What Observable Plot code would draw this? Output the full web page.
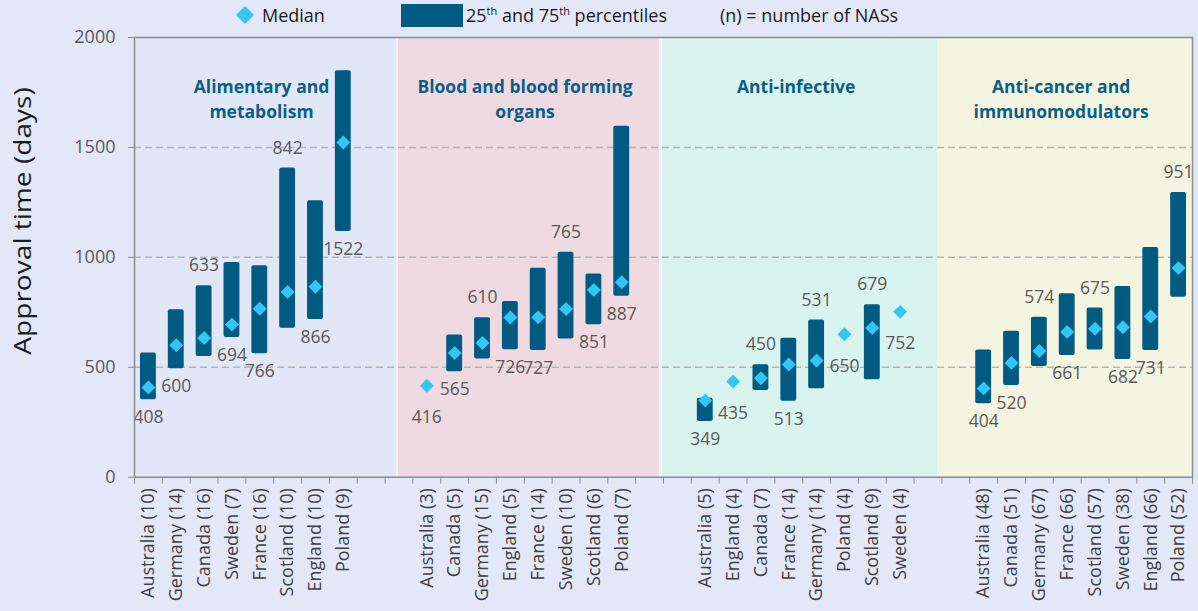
<!DOCTYPE html>
<html>
<head>
<meta charset="utf-8">
<script src="https://cdn.jsdelivr.net/npm/d3@7"></script>
<script src="https://cdn.jsdelivr.net/npm/@observablehq/plot@0.6"></script>
<style>
  html, body { margin: 0; padding: 0; background: #E3E8F8; }
  body { position: relative; width: 1198px; height: 611px; overflow: hidden; font-family: "Open Sans", sans-serif; }
  #legend { position: relative; height: 30px; font-size: 18px; color: #1a1a1a; }
  #legend .item { position: absolute; top: 0; height: 30px; line-height: 30px; white-space: nowrap; }
  #legend sup { font-size: 11px; vertical-align: 0; position: relative; top: -7px; }
  #ytitle { position: absolute; left: 22px; top: 221px; font-size: 24px; color: #1a1a1a; white-space: nowrap;
            transform: translate(-50%, -50%) rotate(-90deg) scaleX(1.17); line-height: 1; }
</style>
</head>
<body>
<div id="legend">
  <svg class="item" style="left:236px; top:6px; height:18px;" width="18" height="18"><polygon points="9,0 18,9 9,18 0,9" fill="#33C6F4"/></svg>
  <div class="item" style="left:262px;">Median</div>
  <div class="item" style="left:401px; top:4px; width:62px; height:23px; background:#005A82;"></div>
  <div class="item" style="left:466px;">25<sup>th</sup> and 75<sup>th</sup> percentiles</div>
  <div class="item" style="left:720px;">(n) = number of NASs</div>
</div>
<div id="chart"></div>
<div id="ytitle">Approval time (days)</div>
<script>
// ---- Data ----
const groupTitles = ["Alimentary and\nmetabolism", "Blood and blood forming\norgans", "Anti-infective", "Anti-cancer and\nimmunomodulators"];

const g1Countries = ["Australia","Germany","Canada","Sweden","France","Scotland","England","Poland"];
const g1N        = [10,14,16,7,16,10,10,9];
const g1Median   = [408,600,633,694,766,842,866,1522];
const g1Q1       = [352,493,549,636,561,677,717,1118];
const g1Q3       = [565,762,871,977,962,1406,1258,1849];
const g1LabelSide = ["below","below","above","below","below","above","below","below"];

const g2Countries = ["Australia","Canada","Germany","England","France","Sweden","Scotland","Poland"];
const g2N        = [3,5,15,5,14,10,6,7];
const g2Median   = [416,565,610,726,727,765,851,887];
const g2Q1       = [null,480,538,580,576,629,693,823];
const g2Q3       = [null,647,725,799,950,1023,924,1596];
const g2LabelSide = ["below","below","above","below","below","above","below","below"];

const g3Countries = ["Australia","England","Canada","France","Germany","Poland","Scotland","Sweden"];
const g3N        = [5,4,7,14,14,4,9,4];
const g3Median   = [349,435,450,513,531,650,679,752];
const g3Q1       = [253,null,394,345,402,null,443,null];
const g3Q3       = [359,null,511,632,715,null,784,null];
const g3LabelSide = ["below","below","above","below","above","below","above","below"];

const g4Countries = ["Australia","Canada","Germany","France","Scotland","Sweden","England","Poland"];
const g4N        = [48,51,67,66,57,38,66,52];
const g4Median   = [404,520,574,661,675,682,731,951];
const g4Q1       = [334,417,503,553,579,535,576,818];
const g4Q3       = [579,664,727,834,770,867,1045,1295];
const g4LabelSide = ["below","below","above","below","above","below","below","above"];

const yTicks = [0,500,1000,1500,2000];
const gridValues = [500,1000,1500];

// ---- Build table ----
const groups = [
  [g1Countries,g1N,g1Median,g1Q1,g1Q3,g1LabelSide],
  [g2Countries,g2N,g2Median,g2Q1,g2Q3,g2LabelSide],
  [g3Countries,g3N,g3Median,g3Q1,g3Q3,g3LabelSide],
  [g4Countries,g4N,g4Median,g4Q1,g4Q3,g4LabelSide]
];
const rows = [];
groups.forEach(([c,n,m,q1,q3,side], g) => {
  c.forEach((name, j) => {
    rows.push({i: g*10 + j, label: `${name} (${n[j]})`, median: m[j], q1: q1[j], q3: q3[j], side: side[j], hasBar: q1[j] != null});
  });
});
const labelOf = new Map(rows.map(r => [r.i, r.label]));

// panel extents in band-index units (layout)
const panelExtents = [[-0.5, 8.91], [8.98, 18.36], [18.47, 28.35], [28.35, 37.5]];
const panelFills = ["#E2E7F8", "#EFDAE2", "#D9F4EE", "#F4F5E0"];
const panels = panelExtents.map(([a,b],k) => ({x1:a, x2:b, fill: panelFills[k], title: groupTitles[k], xc:(a+b)/2}));

const chart = Plot.plot({
  width: 1198,
  height: 581,
  marginTop: 7,
  marginLeft: 134,
  marginRight: 6,
  marginBottom: 134.3,
  x: {type: "linear", domain: [-0.5, 37.5], axis: null},
  y: {domain: [0, 2000], axis: null},
  style: {background: "transparent", fontFamily: "Open Sans, sans-serif", overflow: "visible"},
  marks: [
    Plot.rect([0], {x1: -0.5, x2: 37.5, y1: 0, y2: 2000, fill: "#F2F3FF"}),
    Plot.rect(panels, {x1: "x1", x2: "x2", y1: 0, y2: 2000, fill: "fill"}),
    Plot.ruleY(gridValues, {stroke: "#B5B5B5", strokeWidth: 1.5, strokeDasharray: "7,4"}),
    Plot.rect(rows.filter(d => d.hasBar), {x1: d => d.i - 0.285, x2: d => d.i + 0.285, y1: "q1", y2: "q3", fill: "#005A82", rx: 2}),
    Plot.dot(rows, {x: "i", y: "median", symbol: "diamond2", r: 6.3, fill: "#33C6F4"}),
    Plot.text(rows.filter(d => d.side === "above"), {x: "i", y: d => d.hasBar ? d.q3 : d.median, text: d => String(d.median), dy: -20, fontSize: 17.5, fill: "#595959"}),
    Plot.text(rows.filter(d => d.side === "below" && d.hasBar), {x: "i", y: "q1", text: d => String(d.median), dy: 18, fontSize: 17.5, fill: "#595959"}),
    Plot.text(rows.filter(d => d.side === "below" && !d.hasBar), {x: "i", y: "median", text: d => String(d.median), dy: 32, fontSize: 17.5, fill: "#595959"}),
    Plot.text(panels, {x: "xc", y: 2000, text: "title", lineAnchor: "top", dy: 38, dx: -4, fontSize: 17.5, fontWeight: "bold", fill: "#0B5F86", lineHeight: 1.43}),
    Plot.frame({stroke: "#8C8C8C", strokeWidth: 1.5}),
    Plot.axisY({ticks: yTicks, tickSize: 6, tickPadding: 13, fontSize: 18, stroke: "#8C8C8C", fill: "#595959", tickFormat: d => String(d), label: null}),
    Plot.axisX({ticks: d3.range(-0.5, 38, 1), tickSize: 7, tickFormat: () => "", stroke: "#8C8C8C", label: null}),
    Plot.axisX({ticks: rows.map(d => d.i), tickSize: 0, tickPadding: 11, tickRotate: -90, fontSize: 18, fill: "#404040", tickFormat: d => labelOf.get(d), label: null})
  ]
});
document.getElementById("chart").appendChild(chart);
</script>
</body>
</html>
